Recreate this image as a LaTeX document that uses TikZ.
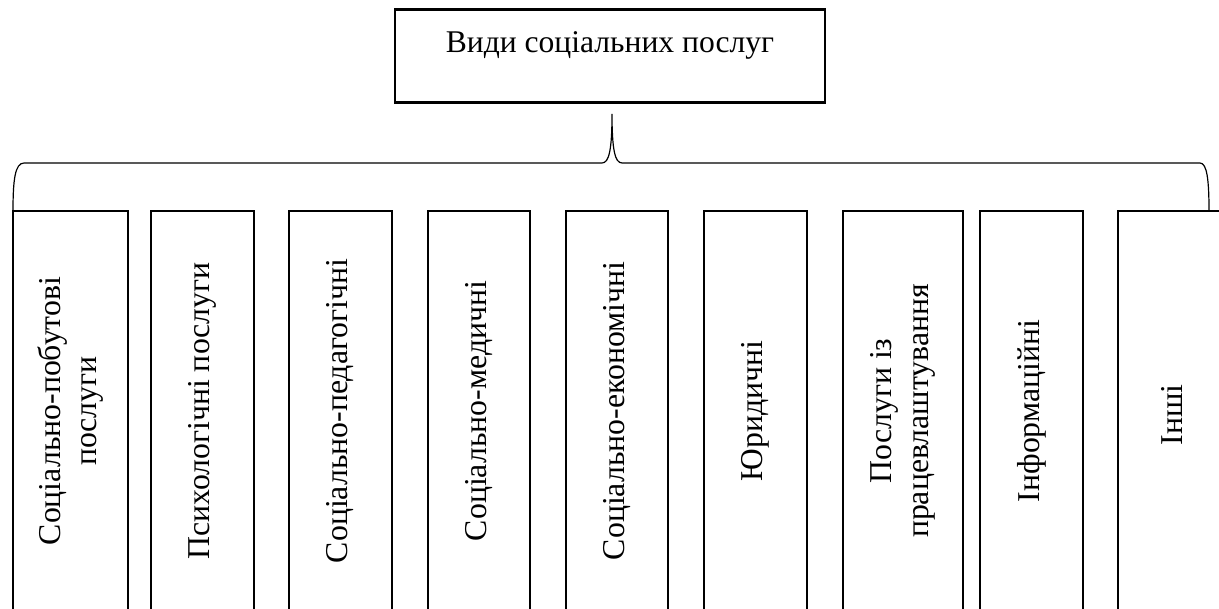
\documentclass[tikz,border=0pt]{standalone}
\usepackage{fontspec}
\setmainfont{Liberation Serif}
\begin{document}
\begin{tikzpicture}[x=0.5pt, y=-0.5pt,
  vidbox/.style={line width=1.2pt},
  vidtext/.style={rotate=90, align=center, inner sep=0pt, font=\fontsize{15.9}{18.2}\selectfont},
  bracel/.style={line width=0.6pt}]

 \useasboundingbox (0,0) rectangle (1219,609);

 \draw[line width=1.4pt] (395,9.5) rectangle (825,102.5);
 \node[anchor=base, font=\fontsize{15.8}{18.2}\selectfont] (vydy) at (610,52.5) {Види соціальних послуг};

 % brace
 \draw[bracel] (13,211) .. controls (13,180) and (15,163) .. (24,163) -- (602,163)
   .. controls (609,163) and (612,150) .. (612,114)
   .. controls (612,150) and (615,163) .. (622,163) -- (1200,163)
   .. controls (1207,163) and (1209,180) .. (1209,211);

 %level 2
 \foreach \x/\w/\name in { 13/115/{Соціально-побутові\\послуги}, 151/103/{Психологічні послуги},
   289/103/{Соціально-педагогічні}, 428/102/{Соціально-медичні}, 566/102/{Соціально-економічні},
   704/103/{Юридичні}, 843/120/{Послуги із\\працевлаштування}, 980/103/{Інформаційні}, 1118/108/{Інші} } {
         \draw[vidbox] (\x,211) rectangle (\x+\w, 614);
         \node[vidtext] (pos\x) at (\x+\w/2, 411) {\name};
 }

\end{tikzpicture}
\end{document}
